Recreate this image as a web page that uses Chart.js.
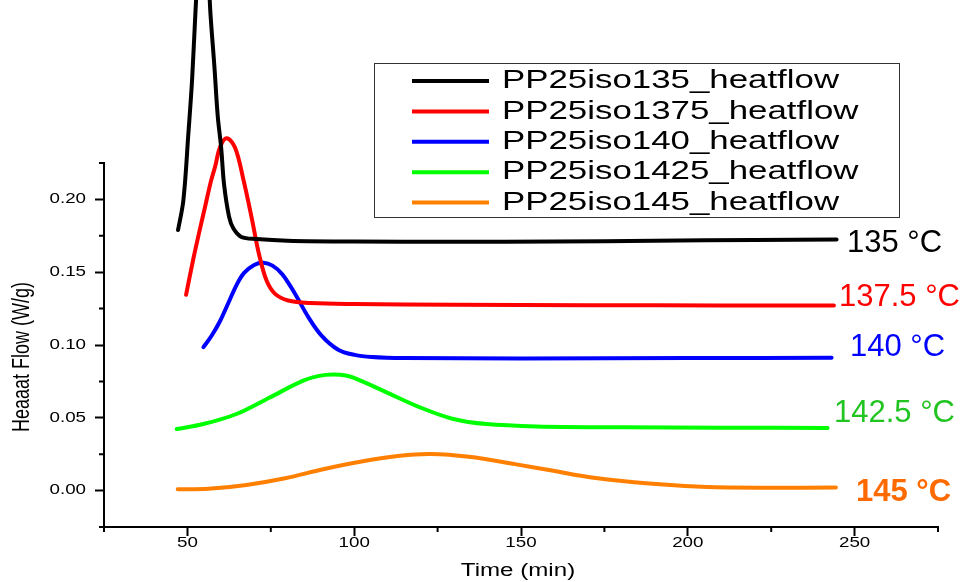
<!DOCTYPE html>
<html>
<head>
<meta charset="utf-8">
<title>Heat flow</title>
<script src="https://cdn.jsdelivr.net/npm/chart.js@4.4.1/dist/chart.umd.min.js"></script>
<style>
  html, body { margin: 0; padding: 0; background: #fff; }
  #wrap { width: 966px; height: 582px; }
</style>
</head>
<body>
<div id="wrap"><canvas id="heatflowChart" width="966" height="582"></canvas></div>
<script>
// legend names and the temperature tags shown at the right end of each curve
const seriesNames = ['PP25iso135_heatflow', 'PP25iso1375_heatflow', 'PP25iso140_heatflow', 'PP25iso1425_heatflow', 'PP25iso145_heatflow'];
const tempLabels = ['135 °C', '137.5 °C', '140 °C', '142.5 °C', '145 °C'];

// 135 °C
const time135 = [47.2, 48.8, 50.3, 51.4, 52.4, 53.3, 54.7, 56.1, 56.9, 58.1, 59.1, 60.1, 61.0, 62.5, 63.8, 66.2, 70.7, 80, 100, 130, 160, 190, 220, 244.6];
const flow135 = [0.179, 0.1995, 0.2455, 0.282, 0.328, 0.362, 0.385, 0.362, 0.328, 0.291, 0.257, 0.236, 0.210, 0.188, 0.180, 0.1742, 0.1728, 0.1716, 0.1710, 0.1709, 0.1711, 0.1716, 0.1721, 0.1724];

// 137.5 °C
const time1375 = [49.6, 51.8, 53.5, 55.3, 57.0, 58.3, 59.8, 61.8, 64.3, 66.8, 69.3, 71.4, 73.7, 76.2, 80.2, 87, 100, 130, 170, 210, 243.8];
const flow1375 = [0.1345, 0.1594, 0.177, 0.195, 0.212, 0.2224, 0.236, 0.242, 0.2355, 0.2135, 0.187, 0.163, 0.1444, 0.1353, 0.1306, 0.1288, 0.1281, 0.1276, 0.1273, 0.1272, 0.1272];

// 140 °C
const time140 = [54.8, 57.3, 59.8, 62.3, 64.8, 67.0, 70.0, 72.8, 75.5, 78.5, 82.3, 86.3, 90.2, 95.2, 100.2, 105.2, 115, 150, 200, 243.1];
const flow140 = [0.0985, 0.1065, 0.1165, 0.129, 0.1415, 0.1495, 0.155, 0.1565, 0.1545, 0.1485, 0.135, 0.119, 0.1065, 0.0968, 0.0932, 0.0918, 0.0911, 0.0908, 0.0910, 0.0912];

// 142.5 °C
const time1425 = [46.8, 54.8, 64.7, 74.7, 84.7, 89.5, 93.7, 97.5, 100.7, 109.7, 119.7, 129.7, 139.7, 154.7, 180, 210, 241.9];
const flow1425 = [0.0423, 0.0457, 0.0526, 0.064, 0.0755, 0.0788, 0.0797, 0.0790, 0.0767, 0.0675, 0.0572, 0.0492, 0.0457, 0.0441, 0.0435, 0.0432, 0.0430];

// 145 °C
const time145 = [47.1, 56.2, 67.7, 79.3, 90.7, 102.2, 113.7, 122.9, 134.4, 148.2, 159.7, 171.2, 188.4, 205.7, 224.6, 244.4];
const flow145 = [0.0010, 0.0012, 0.0039, 0.0085, 0.0147, 0.0200, 0.0239, 0.0251, 0.0232, 0.0182, 0.0136, 0.0090, 0.0048, 0.0025, 0.0020, 0.0021];

// axis ticks
const xMajorTicks = [50, 100, 150, 200, 250];
const xTickLabels = ['50', '100', '150', '200', '250'];
const xMinorTicks = [25, 75, 125, 175, 225, 275];
const yMajorTicks = [0, 0.05, 0.10, 0.15, 0.20];
const yTickLabels = ['0.00', '0.05', '0.10', '0.15', '0.20'];
const yMinorTicks = [-0.025, 0.025, 0.075, 0.125, 0.175, 0.225];

const lineColors = ['#000000', '#ff0000', '#0000ff', '#00ff00', '#ff8000'];
const tagColors = ['#000000', '#ff0000', '#0000ff', '#22c422', '#ff6a00'];
const tagPos = [[847, 243], [839, 297], [850, 347], [834, 413], [856, 492]];

const FONT = '"Liberation Sans", Arial, sans-serif';
const STRETCH = 1.34; // the original figure is stretched horizontally

const allTimes = [time135, time1375, time140, time1425, time145];
const allFlows = [flow135, flow1375, flow140, flow1425, flow145];

function toPoints(xs, ys) {
  return xs.map((x, i) => ({ x: x, y: ys[i] }));
}

function wideText(ctx, text, x, y, align, font, rotate) {
  ctx.save();
  ctx.translate(x, y);
  ctx.scale(STRETCH, 1);
  if (rotate) ctx.rotate(-Math.PI / 2);
  ctx.font = font;
  ctx.textAlign = align;
  ctx.textBaseline = 'middle';
  ctx.fillStyle = '#000';
  ctx.fillText(text, 0, 0);
  ctx.restore();
}

const decorPlugin = {
  id: 'decor',
  afterDraw(chart) {
    const ctx = chart.ctx;
    const xs = chart.scales.x;
    const ys = chart.scales.y;
    const area = chart.chartArea;

    // minor ticks
    ctx.save();
    ctx.strokeStyle = '#000';
    ctx.lineWidth = 2;
    ctx.beginPath();
    xMinorTicks.forEach(v => {
      const px = xs.getPixelForValue(v);
      ctx.moveTo(px, area.bottom);
      ctx.lineTo(px, area.bottom + 5);
    });
    yMinorTicks.forEach(v => {
      const py = ys.getPixelForValue(v);
      ctx.moveTo(area.left, py);
      ctx.lineTo(area.left - 5, py);
    });
    ctx.stroke();
    ctx.restore();

    // tick labels
    yMajorTicks.forEach((v, i) => {
      wideText(ctx, yTickLabels[i], area.left - 18, ys.getPixelForValue(v), 'right', '14px ' + FONT);
    });
    xMajorTicks.forEach((v, i) => {
      wideText(ctx, xTickLabels[i], xs.getPixelForValue(v), area.bottom + 16, 'center', '14px ' + FONT);
    });

    // axis titles
    wideText(ctx, 'Time (min)', (area.left + area.right) / 2 - 3, 571, 'center', '18px ' + FONT);
    wideText(ctx, 'Heaaat Flow (W/g)', 22, 357, 'center', '18px ' + FONT, true);

    // legend box
    ctx.save();
    ctx.fillStyle = '#fff';
    ctx.fillRect(374, 63, 525, 155);
    ctx.strokeStyle = '#333';
    ctx.lineWidth = 1;
    ctx.strokeRect(374.5, 63.5, 525, 154);
    seriesNames.forEach((name, i) => {
      const ry = 81 + i * 30.4;
      ctx.strokeStyle = lineColors[i];
      ctx.lineWidth = 4;
      ctx.beginPath();
      ctx.moveTo(412, ry);
      ctx.lineTo(489, ry);
      ctx.stroke();
      wideText(ctx, name, 502, ry, 'left', '26px ' + FONT);
    });
    ctx.restore();

    // temperature tags
    ctx.save();
    ctx.textAlign = 'left';
    ctx.textBaseline = 'middle';
    tempLabels.forEach((t, i) => {
      ctx.font = (i === 4 ? 'bold ' : '') + '31px ' + FONT;
      ctx.fillStyle = tagColors[i];
      ctx.fillText(t, tagPos[i][0], tagPos[i][1]);
    });
    ctx.restore();
  }
};

const datasets = seriesNames.map((name, i) => ({
  label: name,
  data: toPoints(allTimes[i], allFlows[i]),
  borderColor: lineColors[i],
  backgroundColor: lineColors[i],
  borderWidth: 4,
  borderCapStyle: 'round',
  borderJoinStyle: 'round',
  pointRadius: 0,
  tension: 0.35,
  fill: false,
  clip: false
}));

new Chart(document.getElementById('heatflowChart'), {
  type: 'line',
  data: { datasets: datasets },
  options: {
    responsive: false,
    animation: false,
    layout: { padding: { top: 163, right: 28, left: 0, bottom: 0 } },
    plugins: {
      legend: { display: false },
      tooltip: { enabled: false }
    },
    scales: {
      x: {
        type: 'linear',
        min: 25,
        max: 275,
        afterBuildTicks: s => { s.ticks = xMajorTicks.map(v => ({ value: v })); },
        afterFit: s => { s.height = 55; },
        ticks: { display: false },
        grid: { drawOnChartArea: false, tickLength: 9, tickWidth: 2, tickColor: '#000' },
        border: { display: true, color: '#000', width: 2 }
      },
      y: {
        type: 'linear',
        min: -0.025,
        max: 0.225,
        afterBuildTicks: s => { s.ticks = yMajorTicks.map(v => ({ value: v })); },
        afterFit: s => { s.width = 104; },
        ticks: { display: false },
        grid: { drawOnChartArea: false, tickLength: 9, tickWidth: 2, tickColor: '#000' },
        border: { display: true, color: '#000', width: 2 }
      }
    }
  },
  plugins: [decorPlugin]
});
</script>
</body>
</html>
